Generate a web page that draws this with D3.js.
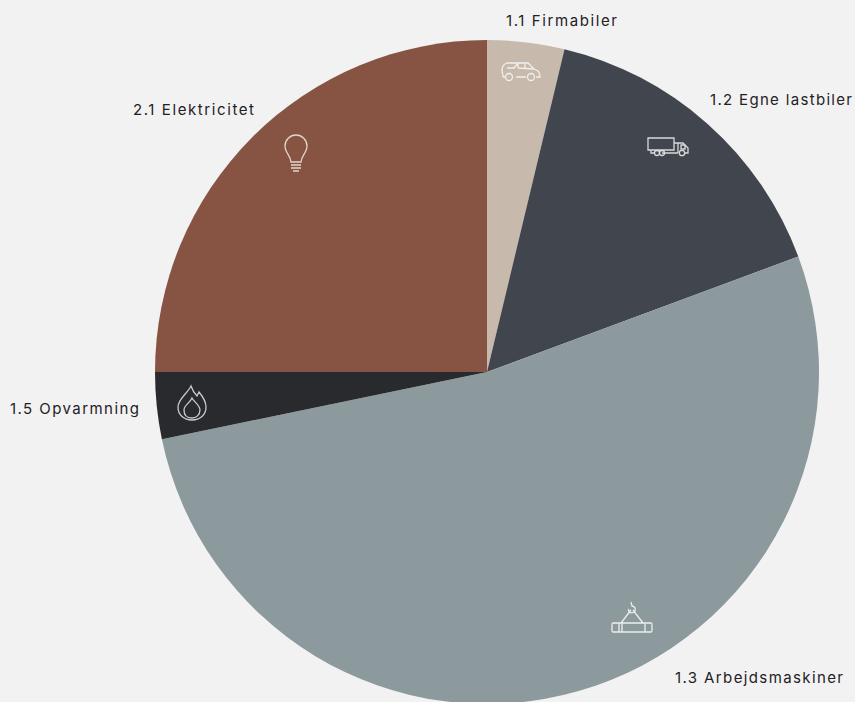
<!DOCTYPE html>
<html>
<head>
<meta charset="utf-8">
<script src="https://cdn.jsdelivr.net/npm/d3@7"></script>
<style>
    html, body { margin: 0; padding: 0; background: #f2f2f2; overflow: hidden; }
    text { font-family: Inter, Roboto, sans-serif; font-size: 15px; fill: #1f2124; }
    .icon path, .icon circle, .icon rect { fill: none; stroke-linecap: round; stroke-linejoin: round; }
</style>
</head>
<body>
<svg width="855" height="702"></svg>
<script>
// data, percent of total
var labels = ["1.1 Firmabiler", "1.2 Egne lastbiler", "1.3 Arbejdsmaskiner", "1.5 Opvarmning", "2.1 Elektricitet"];
var values = [3.75, 15.6, 52.4, 3.25, 25];

var colors = ["#c7baac", "#40454e", "#8d9a9d", "#282a2e", "#875444"];
var iconStroke = ["#f1efec", "#d8dadc", "#eceeee", "#c9cacb", "#e6d3cc"];

// label anchor (left x, baseline y, width of the text)
var labelPos = [[506, 26, 111], [710, 105, 142], [675, 683, 168], [10, 414, 129], [133, 115, 121]];
// icon centre
var iconPos = [[521, 71], [668, 146], [632, 617], [192, 403], [296, 153]];

var iconPaths = [
    // car
    ["M-18,6 L-19,-1 Q-19,-6 -14,-8 L7,-8 L13,-2 L17,0 Q19,2 19,6 L15,6 M5,6 L-5,6 M-15,6 L-18,6 M-14,-3 L-7,-3 L-3,-8 M-3,-3 L13,-2 M-3,-8 L-3,-3 M4,-8 L4,-3"],
    // truck
    ["M-20,-8 L6,-8 L6,4 L-20,4 Z M-17,4 L-17,7 L-13,7 M-6,7 L10,7 M6,-3 L15,-3 L20,2 L20,7 L17,7 M10,-3 L10,7 M13,-1 L17,-1 L17,3 L13,3 Z"],
    // hook and load
    ["M-19,6 L19,6 Q20,6 20,8 L20,13 Q20,15 19,15 L-19,15 Q-20,15 -20,13 L-20,8 Q-20,6 -19,6 Z M-13,6 L-13,15 M-10,6 L-10,15 M13,6 L13,15 M-11,6 L-1,-7 M11,6 L1,-7 M-1,-15 L0,-11 Q4,-10 3,-6 Q1,-3 -3,-5 Q-4,-7 -3,-8"],
    // flame
    ["M-1,-17 C1,-11 3,-9 5,-7 L7,-11 C12,-5 14,0 14,4 C14,12 8,17 0,17 C-8,17 -14,12 -14,4 C-14,-4 -5,-9 -1,-17 Z M0,-5 C2,-1 8,2 8,7 C8,12 4,15 0,15 C-5,15 -8,12 -8,7 C-8,2 -2,0 0,-5 Z"],
    // bulb
    ["M-5,9 C-5,3 -11,0 -11,-7 C-11,-13 -6,-18 0,-18 C6,-18 11,-13 11,-7 C11,0 5,3 5,9 Z M-5,12 L5,12 M-5,15 L5,15 M-3,18 L3,18"]
];

var svg = d3.select("svg"),
    width = 855,
    height = 702,
    cx = 487,
    cy = 372,
    radius = 332;

svg.append("rect")
    .attr("width", width)
    .attr("height", height)
    .attr("fill", "#f2f2f2");

var pie = d3.pie().sort(null).value(function(d) { return d; });
var arc = d3.arc().innerRadius(0).outerRadius(radius);

var g = svg.append("g").attr("transform", "translate(" + cx + "," + cy + ")");

g.selectAll(".slice")
    .data(pie(values))
    .enter().append("path")
    .attr("class", "slice")
    .attr("d", arc)
    .attr("fill", function(d, i) { return colors[i]; });

svg.selectAll(".icon")
    .data(iconPaths)
    .enter().append("path")
    .attr("class", "icon")
    .attr("transform", function(d, i) { return "translate(" + iconPos[i] + ")"; })
    .attr("d", function(d) { return d[0]; })
    .attr("fill", "none")
    .attr("stroke-width", 1.3)
    .attr("stroke", function(d, i) { return iconStroke[i]; });

// wheels for car and truck
var wheels = [[0, -12, 6, 3.5], [0, 10, 6, 3.5], [1, -11, 7, 2.5], [1, -6, 7, 2.5], [1, 14, 7, 2.7]];
svg.selectAll(".wheel")
    .data(wheels)
    .enter().append("circle")
    .attr("class", "wheel")
    .attr("cx", function(d) { return iconPos[d[0]][0] + d[1]; })
    .attr("cy", function(d) { return iconPos[d[0]][1] + d[2]; })
    .attr("r", function(d) { return d[3]; })
    .attr("fill", "none")
    .attr("stroke-width", 1.3)
    .attr("stroke", function(d) { return iconStroke[d[0]]; });

svg.selectAll(".label")
    .data(labels)
    .enter().append("text")
    .attr("class", "label")
    .attr("x", function(d, i) { return labelPos[i][0]; })
    .attr("y", function(d, i) { return labelPos[i][1]; })
    .attr("textLength", function(d, i) { return labelPos[i][2]; })
    .attr("lengthAdjust", "spacing")
    .text(function(d) { return d; });
</script>
</body>
</html>
